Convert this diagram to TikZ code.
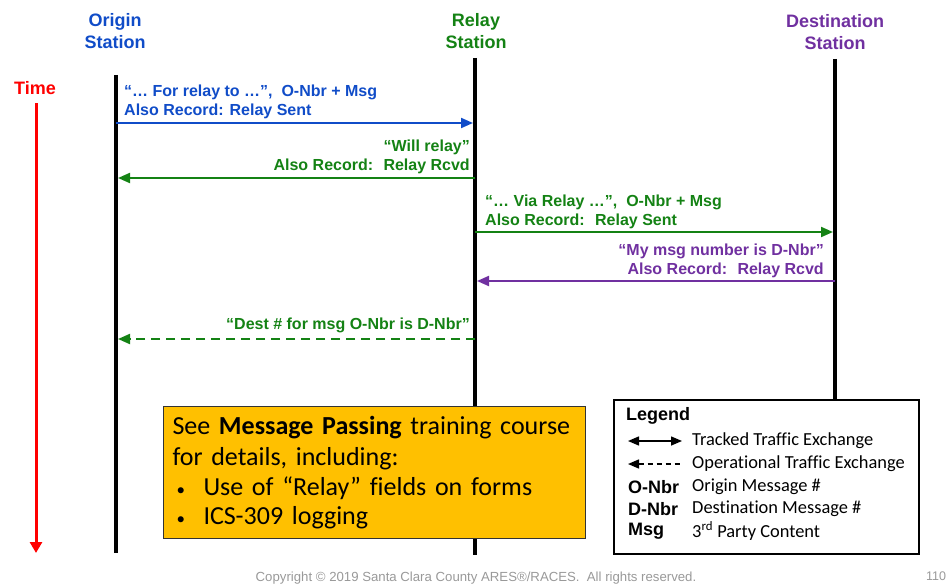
\documentclass[tikz,border=0pt]{standalone}
\usepackage{fontspec}
\setmainfont{Liberation Sans}
\newfontfamily\calibri{Carlito}[Ligatures=NoCommon]
\usetikzlibrary{arrows.meta,positioning}
\definecolor{origblue}{RGB}{16,76,200}
\definecolor{relaygreen}{RGB}{20,130,20}
\definecolor{destpurple}{RGB}{112,48,160}
\definecolor{notegold}{RGB}{255,192,0}
\newcommand{\notebullet}{\makebox[31pt][l]{\hspace{4pt}{\fontsize{17}{17}\selectfont•}}}
\tikzset{
    %Define standard arrow tip
    >={Triangle[length=12pt,width=10pt]},
    %Define style for station headers
    station/.style={
           align=center,
           inner sep=0pt,
           font=\fontsize{18}{22}\selectfont\bfseries},
    %Define style for message labels
    msg/.style={
           inner sep=0pt,
           font=\fontsize{16}{19}\selectfont\bfseries},
    %Define style for the note box
    note/.style={
           rectangle,
           draw=black!80, line width=1pt,
           fill=notegold,
           minimum width=422pt,
           minimum height=132pt,
           text width=404pt,
           inner xsep=9pt,
           align=left,
           font=\calibri\fontsize{26}{30.5}\selectfont},
    %Define style for the legend box
    legendbox/.style={
           rectangle,
           draw=black, line width=2pt,
           fill=white,
           minimum width=305pt,
           minimum height=154pt},
    key/.style={
           inner sep=0pt,
           font=\fontsize{18}{20}\selectfont\bfseries},
    keytext/.style={
           inner sep=0pt,
           font=\calibri\fontsize{18.4}{20}\selectfont},
    % Define lifeline style
    life/.style={
           line width=4pt,
           black},
    % Define arrow style
    pil/.style={
           ->,
           line width=2pt,
           shorten >=2pt}
}
\begin{document}
\begin{tikzpicture}[x=1pt,y=-1pt]
\useasboundingbox (0,0) rectangle (948,586);
% stations and time
\node[station,text=origblue](orig) at (115,31){Origin\\Station};
\node[station,text=relaygreen](relay) at (476,31){Relay\\Station};
\node[station,text=destpurple](dest) at (835,32){Destination\\Station};
\node[station,text=red](time) at (35,88){Time};
\coordinate (o0) at (116,75);
\coordinate (oN) at (116,553);
\coordinate (r0) at (475,58);
\coordinate (rN) at (475,555);
\coordinate (d0) at (835,59);
\coordinate (dN) at (835,555);
\coordinate (t0) at (36,103);
\coordinate (tN) at (36,553);
\draw[life] (o0) -- (oN);
\draw[life] (r0) -- (rN);
\draw[life] (d0) -- (dN);
\draw[red,line width=3pt,-{Triangle[length=11pt,width=12pt]}] (t0) -- (tN);
% message levels
\foreach \n/\y in {1/123,2/178,3/232,4/281,5/339}{
  \coordinate (o\n) at (116,\y);
  \coordinate (r\n) at (475,\y);
  \coordinate (d\n) at (835,\y);
}
\draw[pil,origblue] (o1) -- (r1);
\node[msg,text=origblue,align=left,above right=4pt and 8pt of o1](m1){“… For relay to …”,~ O-Nbr + Msg\\Also Record: Relay Sent};
\draw[pil,relaygreen] (r2) -- (o2);
\node[msg,text=relaygreen,align=right,above left=3.5pt and 5pt of r2](m2){“Will relay”\\Also Record:~ Relay Rcvd};
\draw[pil,relaygreen] (r3) -- (d3);
\node[msg,text=relaygreen,align=left,above right=2.5pt and 10pt of r3](m3){“… Via Relay …”,~ O-Nbr + Msg\\Also Record:~ Relay Sent};
\draw[pil,destpurple] (d4) -- (r4);
\node[msg,text=destpurple,align=right,above left=2.5pt and 11pt of d4](m4){“My msg number is D-Nbr”\\Also Record:~ Relay Rcvd};
\draw[pil,relaygreen,dash pattern=on 9pt off 6pt] (r5) -- (o5);
\node[msg,text=relaygreen,above left=6pt and 5pt of r5](m5){“Dest \# for msg O-Nbr is D-Nbr”};
% note box
\node[note,anchor=north west](info) at (163,406){See \textbf{Message Passing} training course\\for details, including:\\\notebullet Use of “Relay” fields on forms\\[-2pt]\notebullet ICS-309 logging};
% legend
\node[legendbox,anchor=north west](legend) at (613,399){};
\node[key,anchor=west](leg) at (626,416){Legend};
\coordinate (s1a) at (628,441);
\coordinate (s1b) at (682,441);
\coordinate (s2a) at (628,464);
\coordinate (s2b) at (682,464);
\draw[<->,line width=1.5pt,>={Triangle[length=11pt,width=9pt]}] (s1a) -- (s1b);
\draw[<-,line width=1.5pt,dash pattern=on 5pt off 4pt,>={Triangle[length=11pt,width=9pt]}] (s2a) -- (s2b);
\node[keytext,anchor=west](k1) at (692,441){Tracked Traffic Exchange};
\node[keytext,anchor=west](k2) at (692,464){Operational Traffic Exchange};
\node[key,anchor=west](o) at (628,487){O-Nbr};
\node[keytext,anchor=west](k3) at (692,487){Origin Message \#};
\node[key,anchor=west](d) at (628,509){D-Nbr};
\node[keytext,anchor=west](k4) at (692,509){Destination Message \#};
\node[key,anchor=west](m) at (628,531){Msg};
\node[keytext,anchor=west](k5) at (692,531){3\textsuperscript{rd} Party Content};
% footer
\node[text=black!40,font=\fontsize{13.2}{15}\selectfont](copy) at (476,578){Copyright © 2019 Santa Clara County ARES®/RACES.~ All rights reserved.};
\node[text=black!40,font=\fontsize{12.5}{14}\selectfont](page) at (936,576){110};
\end{tikzpicture}
\end{document}
